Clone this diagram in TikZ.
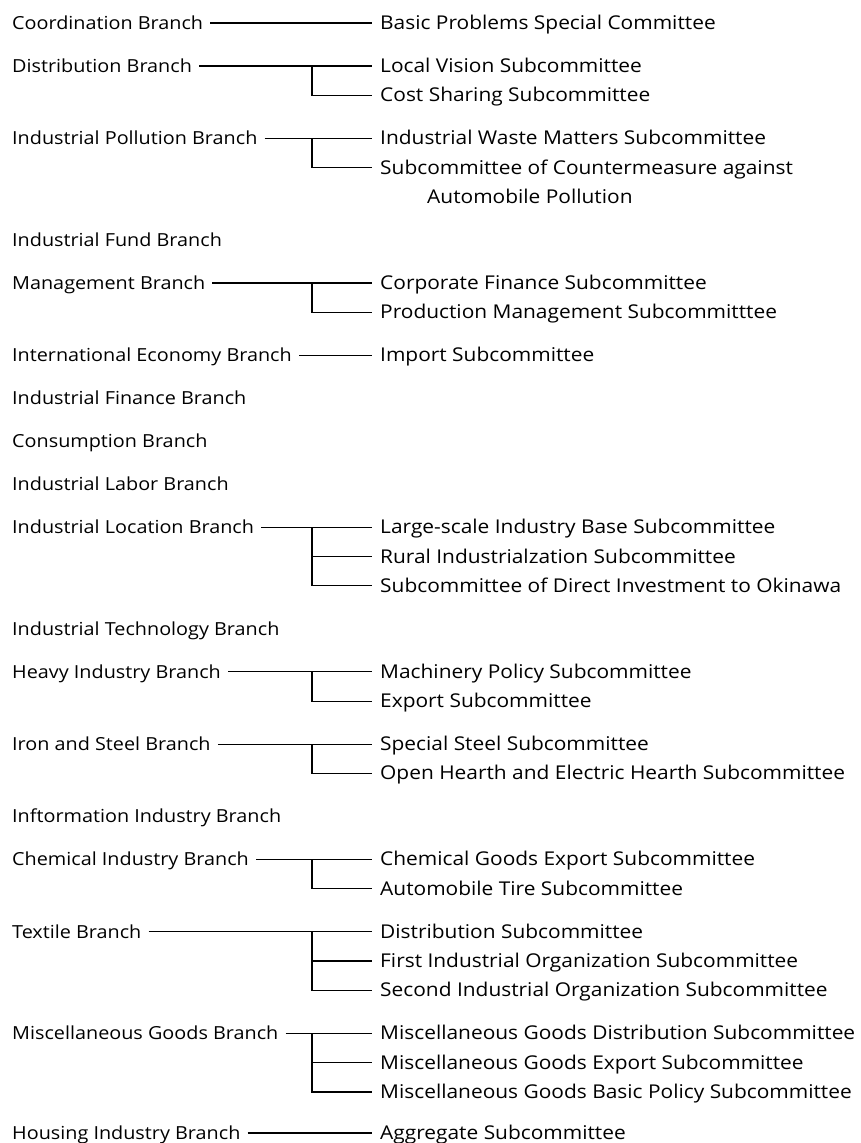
\documentclass[tikz,border=0pt]{standalone}
\usepackage{fontspec}
\setmainfont{Open Sans}[Ligatures=NoCommon, FakeStretch=1.1]
\usetikzlibrary{positioning}

\begin{document}
\begin{tikzpicture}[
  x=1pt, y=-1pt,
  branch/.style={
    anchor=west, inner sep=0pt,
    text height=15pt, text depth=2pt,
    font=\fontsize{18}{22}\selectfont
  },
  sub/.style={branch, font=\fontsize{19}{23}\selectfont},
  link/.style={line width=1.2pt, black, shorten >=8pt},
  mainlink/.style={link, shorten <=7pt}
]
  \useasboundingbox (0,0) rectangle (860,1143);
  \coordinate (jx) at (312,0);

  % Branches
  \node[branch] (coord)  at (12,23)     {Coordination Branch};
  \node[branch] (dist)   at (12,66)     {Distribution Branch};
  \node[branch] (pollu)  at (12,138.3)  {Industrial Pollution Branch};
  \node[branch] (fund)   at (12,239.9)  {Industrial Fund Branch};
  \node[branch] (mgmt)   at (12,282.9)  {Management Branch};
  \node[branch] (intl)   at (12,355.2)  {International Economy Branch};
  \node[branch] (finan)  at (12,398.2)  {Industrial Finance Branch};
  \node[branch] (consum) at (12,441.2)  {Consumption Branch};
  \node[branch] (labor)  at (12,484.2)  {Industrial Labor Branch};
  \node[branch] (locat)  at (12,527.2)  {Industrial Location Branch};
  \node[branch] (techn)  at (12,628.8)  {Industrial Technology Branch};
  \node[branch] (heavy)  at (12,671.8)  {Heavy Industry Branch};
  \node[branch] (iron)   at (12,744.1)  {Iron and Steel Branch};
  \node[branch] (inform) at (12,816.4)  {Inftormation Industry Branch};
  \node[branch] (chem)   at (12,859.4)  {Chemical Industry Branch};
  \node[branch] (text)   at (12,931.7)  {Textile Branch};
  \node[branch] (misc)   at (12,1033.3) {Miscellaneous Goods Branch};
  \node[branch] (house)  at (12,1133)   {Housing Industry Branch};

  % Subcommittees
  \node[sub] (basic)   at (380,23)     {Basic Problems Special Committee};
  \node[sub] (locvis)  at (380,66)     {Local Vision Subcommittee};
  \node[sub] (costsh)  at (380,95.3)   {Cost Sharing Subcommittee};
  \node[sub] (waste)   at (380,138.3)  {Industrial Waste Matters Subcommittee};
  \node[sub] (counter) at (380,167.6)  {Subcommittee of Countermeasure against};
  \node[sub] (autopol) at (427,196.9)  {Automobile Pollution};
  \node[sub] (corpfin) at (380,282.9)  {Corporate Finance Subcommittee};
  \node[sub] (prodmg)  at (380,312.2)  {Production Management Subcommitttee};
  \node[sub] (import)  at (380,355.2)  {Import Subcommittee};
  \node[sub] (large)   at (380,527.2)  {Large-scale Industry Base Subcommittee};
  \node[sub] (rural)   at (380,556.5)  {Rural Industrialzation Subcommittee};
  \node[sub] (okin)    at (380,585.8)  {Subcommittee of Direct Investment to Okinawa};
  \node[sub] (mach)    at (380,671.8)  {Machinery Policy Subcommittee};
  \node[sub] (export)  at (380,701.1)  {Export Subcommittee};
  \node[sub] (steel)   at (380,744.1)  {Special Steel Subcommittee};
  \node[sub] (hearth)  at (380,773.4)  {Open Hearth and Electric Hearth Subcommittee};
  \node[sub] (chemexp) at (380,859.4)  {Chemical Goods Export Subcommittee};
  \node[sub] (tire)    at (380,888.7)  {Automobile Tire Subcommittee};
  \node[sub] (distsub) at (380,931.7)  {Distribution Subcommittee};
  \node[sub] (first)   at (380,961)    {First Industrial Organization Subcommittee};
  \node[sub] (second)  at (380,990.3)  {Second Industrial Organization Subcommittee};
  \node[sub] (mdist)   at (380,1033.3) {Miscellaneous Goods Distribution Subcommittee};
  \node[sub] (mexp)    at (380,1062.6) {Miscellaneous Goods Export Subcommittee};
  \node[sub] (mbasic)  at (380,1091.9) {Miscellaneous Goods Basic Policy Subcommittee};
  \node[sub] (aggr)    at (380,1133)   {Aggregate Subcommittee};

  % Branch lines
  \foreach \a/\b in {coord/basic, dist/locvis, pollu/waste, mgmt/corpfin,
      intl/import, locat/large, heavy/mach, iron/steel, chem/chemexp,
      text/distsub, misc/mdist, house/aggr}
    \draw[mainlink] (\a.east) -- (\b.west);

  % Brackets
  \foreach \a/\b in {locvis/costsh, waste/counter, corpfin/prodmg,
      large/rural, large/okin, mach/export, steel/hearth, chemexp/tire,
      distsub/first, distsub/second, mdist/mexp, mdist/mbasic}
    \draw[link] (jx |- \a.west) |- (\b.west);
\end{tikzpicture}
\end{document}
